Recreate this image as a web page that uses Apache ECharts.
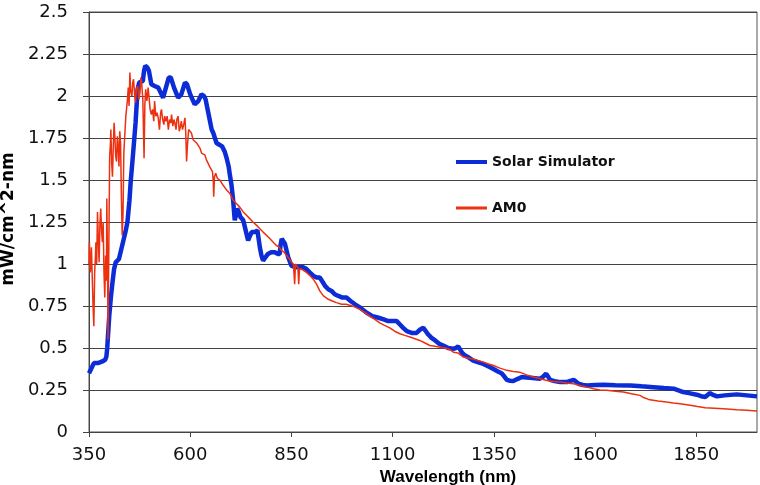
<!DOCTYPE html>
<html>
<head>
<meta charset="utf-8">
<script src="https://cdn.jsdelivr.net/npm/echarts@6/dist/echarts.min.js"></script>
<style>
  html, body { margin: 0; padding: 0; background: #fff; }
  #chart { width: 760px; height: 485px; }
</style>
</head>
<body>
<div id="chart"></div>
<script>
// solar simulator spectrum (nm, mW/cm^2-nm)
var simWavelength = [350, 356, 362, 372, 383, 390, 393, 395, 400, 404, 408, 412, 416, 424, 432, 440, 445, 450, 453, 459,
    465, 470, 474, 483, 486, 489, 494, 498, 504, 512, 521, 527, 533, 540, 547, 552, 560, 570, 578, 587,
    592, 600, 611, 620, 628, 634, 638, 643, 648, 653, 657, 661, 665, 672, 679, 685, 690, 695, 698, 702,
    706, 708, 710, 713, 716, 720, 724, 731, 737, 743, 748, 752, 760, 766, 769, 772, 776, 780, 786, 792,
    800, 809, 816, 821, 823, 826, 830, 834, 838, 842, 850, 860, 871, 880, 887, 895, 904, 912, 920, 928,
    933, 941, 949, 957, 966, 976, 986, 996, 1007, 1020, 1036, 1050, 1065, 1078, 1089, 1100, 1110, 1118, 1126, 1135,
    1147, 1159, 1168, 1176, 1182, 1188, 1196, 1205, 1215, 1225, 1237, 1250, 1256, 1262, 1266, 1272, 1279, 1290, 1299, 1312,
    1324, 1337, 1349, 1360, 1369, 1376, 1382, 1390, 1398, 1408, 1419, 1430, 1439, 1452, 1464, 1472, 1479, 1484, 1489, 1500,
    1514, 1530, 1540, 1547, 1553, 1559, 1570, 1580, 1600, 1621, 1650, 1687, 1715, 1744, 1770, 1794, 1806, 1818, 1835, 1851,
    1862, 1872, 1878, 1884, 1890, 1901, 1920, 1950, 1975, 2000];
var simPower = [0.35, 0.38, 0.41, 0.41, 0.42, 0.43, 0.45, 0.50, 0.69, 0.80, 0.89, 0.97, 1.01, 1.03, 1.11, 1.19, 1.25, 1.38, 1.49, 1.66,
    1.84, 2.04, 2.08, 2.09, 2.15, 2.18, 2.17, 2.15, 2.07, 2.06, 2.05, 2.02, 1.99, 2.05, 2.11, 2.11, 2.05, 1.99, 2.01, 2.08,
    2.07, 2.01, 1.95, 1.97, 2.01, 2.00, 1.98, 1.92, 1.86, 1.80, 1.78, 1.75, 1.72, 1.71, 1.70, 1.67, 1.63, 1.58, 1.53, 1.47,
    1.38, 1.32, 1.26, 1.29, 1.33, 1.31, 1.28, 1.26, 1.20, 1.14, 1.17, 1.19, 1.19, 1.20, 1.15, 1.10, 1.05, 1.02, 1.04, 1.06,
    1.07, 1.07, 1.06, 1.06, 1.11, 1.15, 1.14, 1.12, 1.08, 1.04, 0.99, 0.98, 0.98, 0.98, 0.97, 0.95, 0.93, 0.92, 0.92, 0.89,
    0.87, 0.85, 0.84, 0.82, 0.81, 0.80, 0.80, 0.78, 0.76, 0.74, 0.71, 0.69, 0.68, 0.67, 0.66, 0.66, 0.66, 0.64, 0.62, 0.60,
    0.59, 0.59, 0.61, 0.62, 0.60, 0.58, 0.56, 0.545, 0.525, 0.515, 0.50, 0.495, 0.50, 0.51, 0.50, 0.47, 0.455, 0.44, 0.425, 0.415,
    0.405, 0.39, 0.375, 0.36, 0.35, 0.33, 0.31, 0.305, 0.303, 0.315, 0.327, 0.325, 0.323, 0.32, 0.317, 0.33, 0.347, 0.33, 0.31, 0.303,
    0.297, 0.297, 0.305, 0.311, 0.30, 0.287, 0.28, 0.277, 0.28, 0.281, 0.279, 0.277, 0.272, 0.267, 0.262, 0.258, 0.248, 0.238, 0.23, 0.222,
    0.213, 0.208, 0.22, 0.232, 0.222, 0.212, 0.218, 0.224, 0.218, 0.212];

// AM0 reference spectrum
var am0Wavelength = [350, 351, 353, 354, 356, 358, 360, 362, 364, 366, 367, 369, 371, 373, 375, 377, 379, 381, 383, 385,
    387, 389, 391, 393, 394, 396, 397, 399, 401, 403, 404, 406, 408, 410, 412, 414, 416, 418, 420, 422,
    424, 426, 428, 430, 432, 434, 436, 438, 441, 443, 445, 447, 449, 451, 453, 456, 458, 460, 463, 465,
    467, 470, 473, 476, 478, 480, 483, 486, 488, 490, 493, 496, 498, 501, 504, 507, 510, 512, 515, 518,
    521, 524, 527, 529, 532, 535, 537, 540, 543, 546, 549, 552, 554, 557, 560, 562, 565, 567, 570, 573,
    576, 578, 581, 584, 587, 589, 591, 593, 596, 599, 603, 607, 611, 616, 620, 624, 628, 632, 636, 640,
    644, 648, 652, 655, 657, 658, 660, 663, 667, 673, 681, 690, 698, 706, 714, 722, 731, 739, 747, 755,
    764, 772, 780, 789, 797, 805, 813, 820, 826, 832, 838, 845, 850, 855, 858, 860, 863, 866, 868, 870,
    875, 887, 896, 904, 912, 920, 929, 941, 951, 961, 974, 985, 994, 1006, 1019, 1032, 1044, 1056, 1068, 1080,
    1093, 1105, 1118, 1130, 1143, 1155, 1167, 1180, 1192, 1205, 1217, 1230, 1242, 1250, 1262, 1275, 1287, 1299, 1312, 1324,
    1337, 1349, 1365, 1382, 1398, 1415, 1431, 1448, 1465, 1481, 1497, 1514, 1530, 1547, 1563, 1580, 1596, 1612, 1629, 1650,
    1670, 1690, 1711, 1720, 1732, 1755, 1777, 1793, 1810, 1835, 1853, 1872, 1895, 1917, 1934, 1950, 1975, 2000];
var am0Power = [1.00, 1.13, 0.95, 0.97, 1.10, 1.09, 0.75, 0.63, 0.95, 1.05, 1.13, 1.00, 1.31, 1.15, 1.01, 1.24, 1.33, 1.20, 1.13, 1.25,
    0.95, 0.80, 1.05, 0.90, 1.39, 0.95, 0.55, 1.10, 1.64, 1.72, 1.80, 1.60, 1.52, 1.70, 1.84, 1.75, 1.64, 1.61, 1.76, 1.70,
    1.58, 1.79, 1.72, 1.40, 1.17, 1.30, 1.66, 1.75, 1.88, 1.93, 1.98, 2.05, 1.94, 2.14, 2.03, 2.00, 2.08, 2.10, 2.00, 1.96,
    2.04, 2.06, 1.98, 2.02, 2.11, 2.08, 1.98, 1.63, 1.95, 2.04, 1.97, 2.05, 2.00, 1.92, 1.89, 1.92, 1.85, 1.97, 1.88, 1.90,
    1.87, 1.80, 1.90, 1.92, 1.86, 1.83, 1.88, 1.85, 1.88, 1.80, 1.86, 1.84, 1.89, 1.82, 1.86, 1.84, 1.80, 1.86, 1.88, 1.79,
    1.82, 1.85, 1.80, 1.83, 1.87, 1.78, 1.61, 1.70, 1.80, 1.79, 1.78, 1.74, 1.75, 1.72, 1.71, 1.69, 1.66, 1.67, 1.65, 1.62,
    1.60, 1.58, 1.57, 1.55, 1.49, 1.40, 1.52, 1.54, 1.51, 1.50, 1.47, 1.44, 1.42, 1.38, 1.36, 1.34, 1.31, 1.29, 1.27, 1.25,
    1.23, 1.21, 1.19, 1.17, 1.15, 1.13, 1.11, 1.10, 1.08, 1.07, 1.05, 1.03, 1.01, 1.00, 0.88, 1.00, 0.99, 0.98, 0.88, 0.97,
    0.97, 0.95, 0.93, 0.91, 0.88, 0.84, 0.81, 0.79, 0.78, 0.77, 0.76, 0.76, 0.755, 0.745, 0.73, 0.71, 0.69, 0.67, 0.65, 0.635,
    0.62, 0.60, 0.585, 0.575, 0.565, 0.555, 0.545, 0.53, 0.515, 0.51, 0.505, 0.50, 0.49, 0.475, 0.47, 0.446, 0.44, 0.435, 0.425, 0.416,
    0.405, 0.396, 0.38, 0.367, 0.36, 0.355, 0.34, 0.327, 0.317, 0.307, 0.30, 0.297, 0.292, 0.287, 0.277, 0.267, 0.258, 0.25, 0.248, 0.243,
    0.238, 0.228, 0.218, 0.205, 0.194, 0.185, 0.178, 0.173, 0.168, 0.159, 0.152, 0.145, 0.142, 0.139, 0.136, 0.133, 0.129, 0.125];

var xTicks = [350, 600, 850, 1100, 1350, 1600, 1850];

function pairs(xs, ys) {
    return xs.map(function (x, i) { return [x, ys[i]]; });
}

var chart = echarts.init(document.getElementById('chart'));
var font = 'DejaVu Sans';

var option = {
    animation: false,
    grid: {
        left: 89, right: 3, top: 12, bottom: 53,
        outerBoundsMode: 'none',
        show: true, borderColor: '#555', borderWidth: 1
    },
    legend: {
        data: [
            { name: 'Solar Simulator', lineStyle: { width: 4 } },
            { name: 'AM0', lineStyle: { width: 3 } }
        ],
        orient: 'vertical',
        left: 449, top: 150,
        itemWidth: 31, itemHeight: 14, itemGap: 32,
        itemStyle: { opacity: 0 },
        textStyle: { fontFamily: font, fontWeight: 'bold', fontSize: 14, color: '#111' }
    },
    xAxis: {
        type: 'value',
        min: 350, max: 2000,
        name: 'Wavelength (nm)',
        nameLocation: 'middle',
        nameGap: 34,
        nameTextStyle: { fontFamily: 'Liberation Sans', fontWeight: 'bold', fontSize: 17, color: '#000', padding: [0, 0, 0, 50] },
        axisLine: { lineStyle: { color: '#444', width: 1 } },
        axisTick: { customValues: xTicks, length: 5, lineStyle: { color: '#444' } },
        axisLabel: {
            customValues: xTicks, margin: 14, fontFamily: font, fontSize: 18, color: '#111',
            formatter: function (v) { return String(v); }
        },
        splitLine: { show: false }
    },
    yAxis: {
        type: 'value',
        min: 0, max: 2.5, interval: 0.25,
        name: 'mW/cm^2-nm',
        nameLocation: 'middle',
        nameGap: 51,
        nameTextStyle: { fontFamily: font, fontWeight: 'bold', fontSize: 17, color: '#000', padding: [0, 0, 0, 6] },
        axisLine: { show: true, lineStyle: { color: '#444', width: 1 } },
        axisTick: { show: true, length: 6, lineStyle: { color: '#444' } },
        axisLabel: { margin: 21, fontFamily: font, fontSize: 18, color: '#111' },
        splitLine: { lineStyle: { color: '#444', width: 1 } }
    },
    series: [
        {
            name: 'Solar Simulator',
            type: 'line',
            data: pairs(simWavelength, simPower),
            symbol: 'none',
            color: '#0c2cd6',
            lineStyle: { width: 4.5, color: '#0c2cd6' },
            z: 3
        },
        {
            name: 'AM0',
            type: 'line',
            data: pairs(am0Wavelength, am0Power),
            symbol: 'none',
            color: '#ec3010',
            lineStyle: { width: 1.5, color: '#ec3010' },
            z: 4
        }
    ]
};

chart.setOption(option);
</script>
</body>
</html>
